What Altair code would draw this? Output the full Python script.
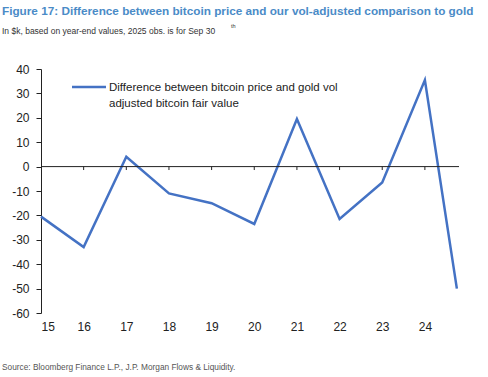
import altair as alt
import pandas as pd

# Data
years = [15, 16, 17, 18, 19, 20, 21, 22, 23, 24, 24.75]
diff = [-20.5, -33, 4, -11, -15, -23.5, 19.5, -21.5, -6.5, 35.5, -50]
x_ticks = [15, 16, 17, 18, 19, 20, 21, 22, 23, 24]
y_ticks = [-60, -50, -40, -30, -20, -10, 0, 10, 20, 30, 40]

title_text = "Figure 17: Difference between bitcoin price and our vol-adjusted comparison to gold"
subtitle_text = "In $k, based on year-end values, 2025 obs. is for Sep 30"
source_text = "Source: Bloomberg Finance L.P., J.P. Morgan Flows & Liquidity."
legend_lines = ["Difference between bitcoin price and gold vol", "adjusted bitcoin fair value"]

FONT = "Liberation Sans, Arial"
BLUE = "#4472C4"

df = pd.DataFrame({"year": years, "diff": diff})
ticks_df = pd.DataFrame({"t": x_ticks[1:]})

xs = alt.Scale(domain=[15, 24.8], nice=False, zero=False)
ys = alt.Scale(domain=[-60, 40], nice=False, zero=False)

xaxis = alt.Axis(values=x_ticks, title=None, domain=False, ticks=False, grid=False,
                 labelFont=FONT, labelFontSize=12, labelColor="#222",
                 labelPadding=8, labelOverlap=False, labelExpr="'' + datum.value")
yaxis = alt.Axis(values=y_ticks, title=None, grid=False, domain=True, domainColor="#222",
                 ticks=True, tickColor="#222", tickSize=5, labelPadding=7,
                 labelOverlap=False, labelExpr="'' + datum.value",
                 labelFont=FONT, labelFontSize=12, labelColor="#222")

line = alt.Chart(df).mark_line(color=BLUE, strokeWidth=2.5).encode(
    x=alt.X("year:Q", scale=xs, axis=xaxis),
    y=alt.Y("diff:Q", scale=ys, axis=yaxis),
)

zero = alt.Chart(pd.DataFrame({"a": [0]})).mark_rule(color="#222", strokeWidth=1).encode(
    x=alt.X(datum=15, scale=xs, axis=xaxis), x2=alt.datum(24.8),
    y=alt.Y(datum=0, scale=ys, axis=yaxis)
)
zticks = alt.Chart(ticks_df).mark_rule(color="#222", strokeWidth=1).encode(
    x=alt.X("t:Q", scale=xs, axis=xaxis), y=alt.Y(datum=0, scale=ys, axis=yaxis), y2=alt.datum(-1.4)
)

base = alt.Chart(pd.DataFrame({"a": [0]}))
title = base.mark_text(text=title_text, font="Liberation Sans", fontWeight="bold", fontSize=11.75,
                       color="#4A8BC7", align="left", baseline="middle").encode(
    x=alt.value(-39), y=alt.value(-58))
subtitle = base.mark_text(text=subtitle_text, font="Liberation Sans", fontSize=8.5,
                          color="#333", align="left", baseline="middle").encode(
    x=alt.value(-39), y=alt.value(-38))
sup = base.mark_text(text="th", font="Liberation Sans", fontSize=5.5,
                     color="#333", align="left", baseline="middle").encode(
    x=alt.value(190), y=alt.value(-43))
source = base.mark_text(text=source_text, font="Liberation Sans", fontSize=8.3,
                        color="#555", align="left", baseline="middle").encode(
    x=alt.value(-39), y=alt.value(299))
leg_line = base.mark_rule(color=BLUE, strokeWidth=2.5).encode(
    x=alt.value(31), x2=alt.value(65), y=alt.value(18))
leg_t1 = base.mark_text(text=legend_lines[0], font=FONT, fontSize=11.5, color="#222",
                        align="left", baseline="middle").encode(x=alt.value(68), y=alt.value(19))
leg_t2 = base.mark_text(text=legend_lines[1], font=FONT, fontSize=11.5, color="#222",
                        align="left", baseline="middle").encode(x=alt.value(68), y=alt.value(35))

chart = alt.layer(line, zero, zticks, title, subtitle, sup, source, leg_line, leg_t1, leg_t2).properties(
    width=418, height=244,
    autosize=alt.AutoSizeParams(type="none"),
    padding={"left": 41, "top": 69, "right": 29, "bottom": 64},
    background="white",
).configure_view(stroke=None)

chart.save("out.html", embed_options={"renderer": "svg", "actions": False})
